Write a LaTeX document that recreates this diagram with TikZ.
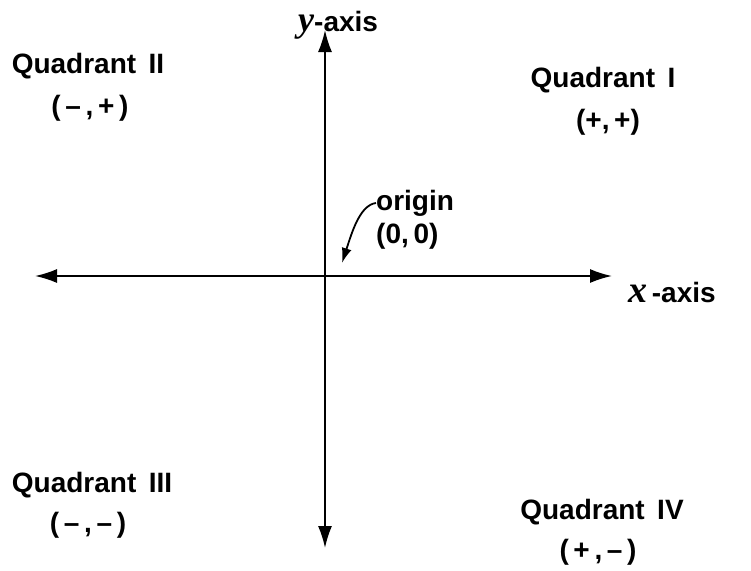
\documentclass[tikz,border=0pt]{standalone}
\usepackage{fontspec}
\setmainfont{Liberation Sans}
\newfontfamily\letterfont{Liberation Serif}
\usetikzlibrary{arrows.meta, positioning}

\begin{document}
\begin{tikzpicture}[
    x=1pt, y=-1pt,
    >={Latex[length=22pt, width=14pt]},
    every node/.style={font=\fontsize{28}{32}\selectfont\bfseries},
    axisline/.style={line width=1.8pt},
    quad/.style={anchor=center},
]
\useasboundingbox (0,0) rectangle (751,570);

% Axes
\coordinate (xleft) at (35,276);
\coordinate (xright) at (612,276);
\coordinate (ytop) at (325,30);
\coordinate (ybot) at (325,548);
\draw[axisline, <->] (xleft) -- (xright);
\draw[axisline, <->] (ybot) -- (ytop);

% Axis labels
\node[anchor=west, inner sep=0pt] (xlab) at (628,292)
    {{\letterfont\bfseries\itshape\fontsize{38}{38}\selectfont x}\,-axis};
\node[anchor=west, inner sep=0pt] (ylab) at (298,25)
    {{\letterfont\bfseries\itshape\fontsize{36}{36}\selectfont y}-axis};

% Quadrants
\node[quad] (q2) at (88,66) {Quadrant\, II};
\node[quad] (s2) at (90,108) {(\,–\,,\,+\,)};
\node[quad] (q1) at (603,80) {Quadrant\, I};
\node[quad] (s1) at (608,122) {(+,\,+)};
\node[quad] (q3) at (92,485) {Quadrant\, III};
\node[quad] (s3) at (88,525) {(\,–\,,\,–\,)};
\node[quad] (q4) at (602,512) {Quadrant\, IV};
\node[quad] (s4) at (598,552) {(\,+\,,\,–\,)};

% Origin
\node[anchor=west, inner sep=0pt] (orig) at (376,203) {origin};
\node[anchor=west, inner sep=0pt] (origc) at (376,236) {(0,\,0)};
\coordinate (o) at (342,263);
\draw[line width=1.8pt, -{Latex[length=15pt, width=10pt]}]
    (orig.west) .. controls (360,205) and (352,232) .. (o);

\end{tikzpicture}
\end{document}
